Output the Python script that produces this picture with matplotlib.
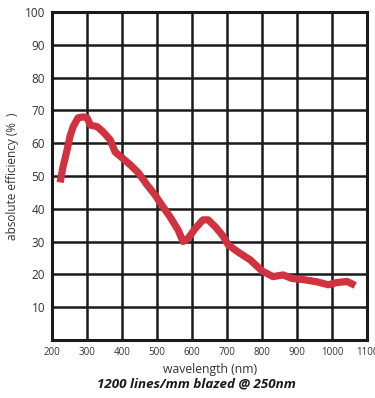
import matplotlib
matplotlib.use("Agg")
import matplotlib.pyplot as plt

# efficiency curve
wavelength = [223, 231, 243, 251, 260, 274, 289, 300, 309, 329, 346, 366, 380, 400,
              423, 446, 471, 494, 509, 537, 560, 574, 589, 609, 631, 646, 666, 686,
              703, 731, 766, 800, 831, 860, 886, 917, 957, 989, 1014, 1043, 1066]
efficiency = [48.0, 52.7, 58.0, 62.0, 65.0, 67.7, 68.0, 67.7, 65.5, 65.0, 63.4, 61.0, 57.3, 55.5,
              53.4, 51.0, 47.3, 44.2, 41.8, 37.5, 33.5, 30.0, 31.0, 34.0, 36.6, 36.6, 34.5, 32.0,
              29.0, 26.8, 24.4, 21.0, 19.3, 19.8, 18.7, 18.4, 17.7, 16.8, 17.5, 17.8, 16.6]

x_ticks = [200, 300, 400, 500, 600, 700, 800, 900, 1000, 1100]
y_ticks = [10, 20, 30, 40, 50, 60, 70, 80, 90, 100]

plt.rcParams['font.family'] = ['Open Sans', 'DejaVu Sans']

fig = plt.figure(figsize=(3.75, 3.98), dpi=100)
ax = fig.add_axes([0.139, 0.146, 0.840, 0.824])

ax.plot(wavelength, efficiency, color='#d1323f', linewidth=5.2, solid_capstyle='butt',
        solid_joinstyle='round', zorder=3)

ax.set_xlim(200, 1100)
ax.set_ylim(0, 100)
ax.set_xticks(x_ticks)
ax.set_yticks(y_ticks)
ax.set_xticklabels([str(v) for v in x_ticks], fontsize=7, color='#333333')
ax.set_yticklabels([str(v) for v in y_ticks], fontsize=8.5, color='#333333')
ax.tick_params(length=0, pad=5)
ax.grid(True, color='#1a1a1a', linewidth=1.8, zorder=1)
for s in ax.spines.values():
    s.set_linewidth(2.2)
    s.set_color('#1a1a1a')

ax.set_ylabel("absolute efficiency (%  )", fontsize=8.5, color='#333333', labelpad=4)
ax.set_xlabel("wavelength (nm)", fontsize=8.8, color='#333333', labelpad=4)
fig.text(0.525, 0.035, "1200 lines/mm blazed @ 250nm", ha='center', va='center',
         fontsize=9.6, fontweight='bold', fontstyle='italic', color='#1a1a1a')

fig.savefig("out.png", dpi=100)
